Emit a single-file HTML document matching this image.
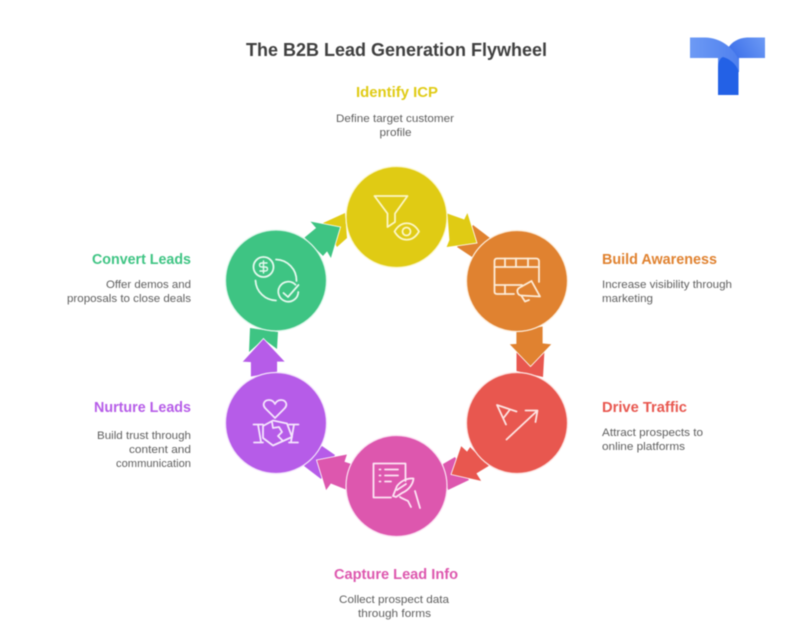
<!DOCTYPE html>
<html lang="en">
<head>
<meta charset="utf-8">
<title>The B2B Lead Generation Flywheel</title>
<style>
html,body{margin:0;padding:0;background:#fff;width:792px;height:630px;overflow:hidden}
svg{display:block;filter:blur(.4px)}
text{font-family:"Liberation Sans",Arial,sans-serif}
.h{font-size:14.5px;font-weight:700}
.d{font-size:11px;fill:#5f5f5f}
.i{fill:none;stroke-width:1.8;stroke-linecap:round;stroke-linejoin:round}
</style>
</head>
<body>
<svg xmlns="http://www.w3.org/2000/svg" width="792" height="630" viewBox="0 0 792 630">
<defs>
<linearGradient id="lg1" x1="0" y1="0" x2="1" y2="0"><stop offset="0" stop-color="#6d9af5"/><stop offset="1" stop-color="#4f80ee"/></linearGradient>
<linearGradient id="lg2" x1="1" y1="0" x2="0" y2="0.4"><stop offset="0" stop-color="#6d9af5"/><stop offset="1" stop-color="#3f72ea"/></linearGradient>
</defs>
<rect width="792" height="630" fill="#fff"/>

<text x="396.5" y="56" text-anchor="middle" font-weight="700" fill="#3f3f3f" textLength="301" lengthAdjust="spacingAndGlyphs" style="font-size:18px">The B2B Lead Generation Flywheel</text>

<!-- logo -->
<path d="M765 37.5H747C738 38 732 42 728 48C733 52 736 55 739 61V58H765Z" fill="url(#lg2)"/>
<path d="M690 37.5H705C720 38 732 46 739 60V72H718V58H690Z" fill="url(#lg1)"/>
<path d="M718 95V68C718 62 720 58 723 57C730 59 736 64 738.5 71V95Z" fill="#2361e6"/>

<!-- connector tails -->
<path d="M323 223L345 213L347 238L337 247Z" fill="#e0cb14"/>
<path d="M473 225L490 238L472 257L457 247Z" fill="#e08230"/>
<path d="M516.5 350L530.5 366L544.5 350L543 377L516.5 371Z" fill="#e8574f"/>
<path d="M455 457L443 464L448 490L469 480Z" fill="#dd57ae"/>
<path d="M322 446L335 455L321 479L304 466Z" fill="#b65ce8"/>
<path d="M250 328L278 332L277 349L263.5 339L249 352Z" fill="#3ec483"/>

<!-- arrows -->
<g stroke="#fff" stroke-width=".8" stroke-linejoin="miter">
<path d="M447 213L464 219L467.5 212L477 243L446 247.5L449 240Z" fill="#e0cb14"/>
<path d="M516 331L543 326L543 343L552 344L530.5 366.5L509 344L516 343.5Z" fill="#e08230"/>
<path d="M461 445.5L467 451L470 446.5L489.5 466L477 473.5L482 481.5L451 474.5Z" fill="#e8574f"/>
<path d="M316.5 460L347.5 454L345 461.5L351 463.5L346 490L331 484L326 491Z" fill="#dd57ae"/>
<path d="M263.5 338.5L285.5 362H277.5V372L250.5 377V362.5L242 362Z" fill="#b65ce8"/>
<path d="M340.5 227L309.5 221L315.5 228L304 237.5L323 256.5L327 252L331 259Z" fill="#3ec483"/>
</g>

<!-- circles -->
<circle cx="396.5" cy="217" r="50.5" fill="#e0cb14" stroke="#fbf7cf" stroke-width="1.2"/>
<circle cx="517" cy="281" r="50.5" fill="#e08230" stroke="#fdeedd" stroke-width="1.2"/>
<circle cx="517" cy="423" r="50.5" fill="#e8574f" stroke="#fde3e1" stroke-width="1.2"/>
<circle cx="396.5" cy="486" r="50.5" fill="#dd57ae" stroke="#fbe1f2" stroke-width="1.2"/>
<circle cx="276" cy="423" r="50.5" fill="#b65ce8" stroke="#f3e3fc" stroke-width="1.2"/>
<circle cx="276" cy="280.5" r="50.5" fill="#3ec483" stroke="#dff7eb" stroke-width="1.2"/>

<!-- funnel + eye -->
<g class="i" stroke="#fcf6c4">
<path d="M374.500 196H407.500L395 213.500V222L387.500 227V213.500Z"/>
<path d="M394.500 231.500C401 220.500 412.500 220.500 419 231.500C412.500 242.500 401 242.500 394.500 231.500Z"/>
<circle cx="406.500" cy="231.500" r="4"/>
</g>

<!-- film + megaphone -->
<g class="i" stroke="#fdebd6">
<path d="M514 294H497Q494.500 294 494.500 291.500V261.500Q494.500 258.500 497 258.500H536Q539 258.500 539 261.500V282"/>
<path d="M494.500 267H539M494.500 285H522M505 258.500V267M516 258.500V267M528 258.500V267M505 285V294"/>
<path d="M531.500 281L540 296.500L521.500 295.500A4.200 4.200 0 0 1 519 288Z"/>
<path d="M521.500 296L525 301.500L529 300"/>
</g>

<!-- send/arrow -->
<g class="i" stroke="#fde3e1">
<path d="M516.500 411.500L497 405L506 424.500M503.500 418L510 409.500"/>
<path d="M506.500 439.500L537 411M525.500 410.500H537.500L535.500 422"/>
</g>

<!-- form + pen -->
<g class="i" stroke="#fde4f4">
<path d="M391 497.500H373.500V463.500H405.500V481"/>
<path d="M379.500 469.500H380.500M379.500 475.500H380.500M379.500 481.500H380.500M385 469.500H398M385 475.500H398M385 481.500H391"/>
<path d="M393 496L397 486C401 481 407 478 413.500 478.500C413 484 409 490 402 493L396 497Z"/>
<path d="M397 490L406 484M400 497C403 499 406 500 408 501L411 507M415 491L420 508"/>
</g>

<!-- heart + handshake -->
<g class="i" stroke="#f5e5fd">
<path d="M275 418L266 409C261 404 265 400 269 400C272 400 274 402 275 404C276 402 278 400 281 400C285 400 289 404 284 409Z"/>
<path d="M253.500 424.500H263M258 424.500L261 442M254 442.500H263M298.500 424.500H289M294 424.500L291 442M298 442.500H289"/>
<path d="M263 426L273 420.500L287 423.500L292 437L273 445.500L263 438Z"/>
<path d="M272 422L273 428L279 427L282 432L278 436L283 441"/>
</g>

<!-- dollar + check -->
<g class="i" stroke="#e4f9ee">
<circle cx="263.500" cy="267" r="10"/>
<path d="M267 263H262Q259.500 263 259.500 265T262 267H265Q267.500 267 267.500 269T265 271H260M263.500 261V273" stroke-width="1.400"/>
<path d="M276 259.500A21 21 0 0 1 296.500 281"/>
<path d="M255.500 280.500A21 21 0 0 0 276 300.500"/>
<path d="M295.500 284.700A10 10 0 1 0 298.300 292"/>
<path d="M283.500 293L288 297L298.500 285"/>
</g>

<!-- labels -->
<text class="h" x="397" y="97" text-anchor="middle" fill="#e0cb14" textLength="82" lengthAdjust="spacingAndGlyphs">Identify ICP</text>
<text class="d" x="395" y="122" text-anchor="middle" textLength="118" lengthAdjust="spacingAndGlyphs">Define target customer</text>
<text class="d" x="395.500" y="136" text-anchor="middle" textLength="32" lengthAdjust="spacingAndGlyphs">profile</text>

<text class="h" x="602" y="264" fill="#e08230" textLength="115" lengthAdjust="spacingAndGlyphs">Build Awareness</text>
<text class="d" x="602" y="288" textLength="130" lengthAdjust="spacingAndGlyphs">Increase visibility through</text>
<text class="d" x="602" y="302" textLength="51" lengthAdjust="spacingAndGlyphs">marketing</text>

<text class="h" x="602" y="412" fill="#e8574f" textLength="85" lengthAdjust="spacingAndGlyphs">Drive Traffic</text>
<text class="d" x="602" y="436" textLength="101" lengthAdjust="spacingAndGlyphs">Attract prospects to</text>
<text class="d" x="602" y="450" textLength="83" lengthAdjust="spacingAndGlyphs">online platforms</text>

<text class="h" x="396" y="579" text-anchor="middle" fill="#dd57ae" textLength="124" lengthAdjust="spacingAndGlyphs">Capture Lead Info</text>
<text class="d" x="394" y="603" text-anchor="middle" textLength="110" lengthAdjust="spacingAndGlyphs">Collect prospect data</text>
<text class="d" x="394.500" y="617" text-anchor="middle" textLength="73" lengthAdjust="spacingAndGlyphs">through forms</text>

<text class="h" x="191" y="412" text-anchor="end" fill="#b65ce8" textLength="97" lengthAdjust="spacingAndGlyphs">Nurture Leads</text>
<text class="d" x="191" y="439" text-anchor="end" textLength="94" lengthAdjust="spacingAndGlyphs">Build trust through</text>
<text class="d" x="191" y="453" text-anchor="end" textLength="62" lengthAdjust="spacingAndGlyphs">content and</text>
<text class="d" x="191" y="467" text-anchor="end" textLength="75" lengthAdjust="spacingAndGlyphs">communication</text>

<text class="h" x="191" y="264" text-anchor="end" fill="#3ec483" textLength="99" lengthAdjust="spacingAndGlyphs">Convert Leads</text>
<text class="d" x="191" y="288" text-anchor="end" textLength="85" lengthAdjust="spacingAndGlyphs">Offer demos and</text>
<text class="d" x="191" y="302" text-anchor="end" textLength="124" lengthAdjust="spacingAndGlyphs">proposals to close deals</text>
</svg>
</body>
</html>
